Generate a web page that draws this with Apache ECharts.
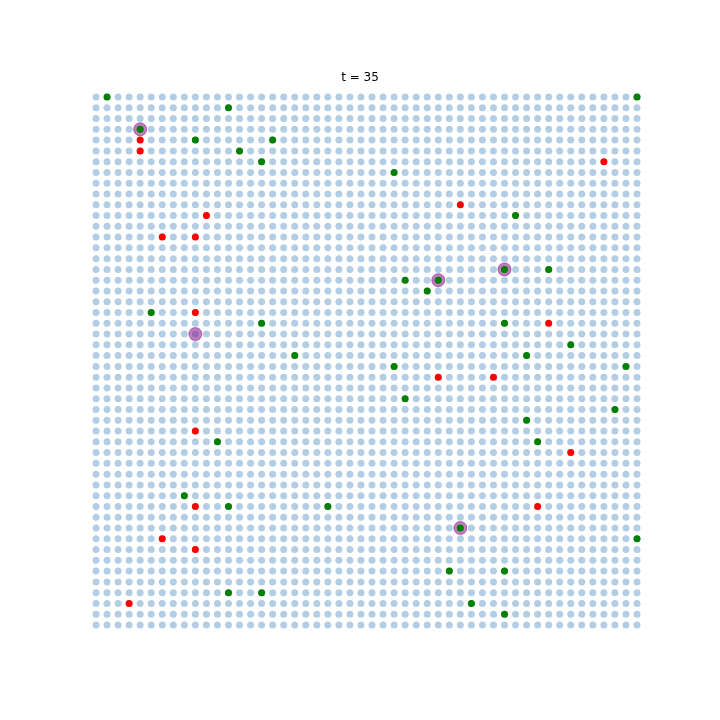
<!DOCTYPE html>
<html>
<head>
<meta charset="utf-8">
<script src="https://cdn.jsdelivr.net/npm/echarts@6/dist/echarts.min.js"></script>
<style>
  html, body { margin: 0; padding: 0; background: #fff; }
  #chart { width: 720px; height: 720px; }
</style>
</head>
<body>
<div id="chart"></div>
<script>
// lattice size (columns x rows), row 0 is the top row
const nCols = 50
const nRows = 50
const titleText = 't = 35'

// green cells
const greenCols = [1, 49, 12, 4, 9, 16, 13, 15, 27, 38, 37, 41, 28, 31, 30, 5, 15, 37, 43, 18, 39, 27, 48, 28, 47, 39, 11, 40, 8, 12, 21, 33, 49, 32, 37, 12, 15, 34, 37]
const greenRows = [0, 0, 1, 3, 4, 4, 5, 6, 7, 11, 16, 16, 17, 17, 18, 20, 21, 21, 23, 24, 24, 25, 25, 28, 29, 30, 32, 32, 37, 38, 38, 40, 41, 44, 44, 46, 46, 47, 48]

// red cells
const redCols = [4, 4, 46, 33, 10, 6, 9, 9, 41, 31, 36, 9, 43, 9, 40, 6, 9, 3]
const redRows = [4, 5, 6, 10, 11, 13, 13, 20, 21, 26, 26, 31, 33, 38, 38, 41, 42, 47]

// highlighted (purple ring) cells
const ringCols = [4, 37, 31, 9, 33]
const ringRows = [3, 16, 17, 22, 40]

const zip = (xs, ys) => xs.map((x, i) => [x, ys[i]])

const gridPts = []
for (let r = 0; r < nRows; r++) {
  for (let c = 0; c < nCols; c++) gridPts.push([c, r])
}

const chart = echarts.init(document.getElementById('chart'), null, { renderer: 'canvas' })

chart.setOption({
  animation: false,
  backgroundColor: '#ffffff',
  title: {
    text: titleText,
    left: 'center',
    top: 67,
    textStyle: { fontFamily: 'DejaVu Sans', fontSize: 12, fontWeight: 'normal', color: '#000' },
  },
  grid: { left: 96, right: 83, top: 97, bottom: 95 },
  xAxis: {
    type: 'value', min: 0, max: nCols - 1, show: false,
  },
  yAxis: {
    type: 'value', min: 0, max: nRows - 1, inverse: true, show: false,
  },
  series: [
    {
      type: 'scatter',
      data: gridPts,
      symbolSize: 7,
      itemStyle: { color: '#b3cee4', opacity: 1 },
      z: 1,
    },
    {
      type: 'scatter',
      data: zip(ringCols, ringRows),
      symbolSize: 13,
      itemStyle: { color: '#800080', borderColor: '#800080', borderWidth: 1, opacity: 0.5 },
      z: 2,
    },
    {
      type: 'scatter',
      data: zip(greenCols, greenRows),
      symbolSize: 7,
      itemStyle: { color: '#008000', opacity: 1 },
      z: 3,
    },
    {
      type: 'scatter',
      data: zip(redCols, redRows),
      symbolSize: 7,
      itemStyle: { color: '#ff0000', opacity: 1 },
      z: 3,
    },
  ],
})
</script>
</body>
</html>
